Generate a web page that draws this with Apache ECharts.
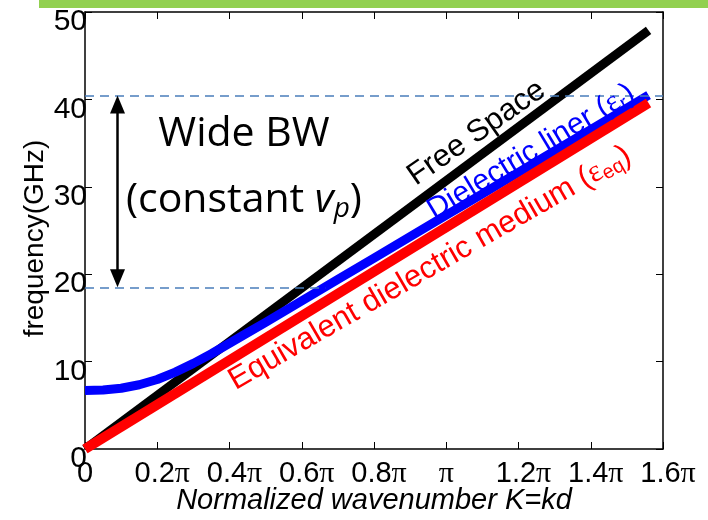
<!DOCTYPE html>
<html>
<head>
<meta charset="utf-8">
<script src="https://cdn.jsdelivr.net/npm/echarts@6/dist/echarts.min.js"></script>
<style>
  html, body { margin: 0; padding: 0; background: #ffffff; }
  #chart { width: 708px; height: 520px; }
</style>
</head>
<body>
<div id="chart"></div>
<script>
// Normalized wavenumber K = kd, expressed in units of π
const xTicks = [0, 0.2, 0.4, 0.6, 0.8, 1.0, 1.2, 1.4, 1.6];
const yTicks = [0, 10, 20, 30, 40, 50];

// Free-space light line (GHz)
const freeSpaceK = [0, 1.56];
const freeSpaceF = [0, 47.9];

// Dielectric-lined guide dispersion (GHz)
const linerK = [0, 0.05, 0.1, 0.15, 0.2, 0.25, 0.3, 0.35, 0.4, 0.45, 0.5, 0.6, 0.7, 0.8, 0.9, 1.0, 1.1, 1.2, 1.3, 1.4, 1.5, 1.56];
const linerF = [6.7, 6.75, 6.95, 7.35, 7.95, 8.8, 9.8, 10.9, 12.1, 13.3, 14.5, 16.95, 19.4, 21.85, 24.3, 26.75, 29.2, 31.65, 34.1, 36.55, 39.0, 40.5];

// Equivalent homogeneous dielectric medium (GHz)
const equivK = [0, 1.56];
const equivF = [0, 39.6];

// Band edges of the constant phase-velocity region (GHz)
const bandTop = 40.45;
const bandBottom = 18.5;
const bandBottomEndK = 0.665;
const bandArrowK = 0.09;

const zip = (xs, ys) => xs.map((x, i) => [x, ys[i]]);

const SANS = '"Liberation Sans", Arial, sans-serif';
const SERIF = '"Liberation Serif", "Times New Roman", serif';
const CAL = '"Open Sans", Calibri, sans-serif';

const chart = echarts.init(document.getElementById('chart'), null, { renderer: 'canvas' });

function piLabel(v) {
  if (Math.abs(v) < 1e-9) return '{n|0}';
  if (Math.abs(v - 1) < 1e-9) return '{p|π}';
  return '{g| }{n|' + v.toFixed(1) + '}{p|π}';
}

const axisLineStyle = { color: '#000', width: 1.5 };
const tickStyle = { show: true, inside: true, length: 7, lineStyle: { color: '#000', width: 1 } };

function buildOption(arrowInset) {
  return {
    animation: false,
    backgroundColor: '#ffffff',
    grid: { left: 85, top: 12, right: 45, bottom: 71, containLabel: false },
    xAxis: [
      {
        type: 'value', min: xTicks[0], max: xTicks[xTicks.length - 1], interval: 0.2,
        position: 'bottom',
        axisLine: { show: true, onZero: false, lineStyle: axisLineStyle },
        axisTick: tickStyle,
        splitLine: { show: false },
        axisLabel: {
          margin: 10,
          showMinLabel: true, showMaxLabel: true, hideOverlap: false,
          formatter: piLabel,
          rich: {
            n: { fontFamily: SANS, fontSize: 29, color: '#000' },
            p: { fontFamily: SERIF, fontSize: 30, color: '#000' },
            g: { fontFamily: SANS, fontSize: 29, width: 10 }
          }
        },
        name: 'Normalized wavenumber K=kd',
        nameLocation: 'middle',
        nameGap: 37,
        nameMoveOverlap: false,
        nameTextStyle: { fontFamily: SANS, fontSize: 29, fontStyle: 'italic', color: '#000' }
      },
      {
        type: 'value', min: xTicks[0], max: xTicks[xTicks.length - 1], interval: 0.2,
        position: 'top',
        axisLine: { show: true, onZero: false, lineStyle: axisLineStyle },
        axisTick: tickStyle,
        axisLabel: { show: false },
        splitLine: { show: false }
      }
    ],
    yAxis: [
      {
        type: 'value', min: yTicks[0], max: yTicks[yTicks.length - 1], interval: 10,
        position: 'left',
        axisLine: { show: true, onZero: false, lineStyle: axisLineStyle },
        axisTick: tickStyle,
        splitLine: { show: false },
        axisLabel: {
          margin: -2,
          showMinLabel: true, showMaxLabel: true, hideOverlap: false,
          fontFamily: SANS, fontSize: 30, color: '#000',
          verticalAlign: 'top', lineHeight: 20
        },
        name: 'frequency(GHz)',
        nameLocation: 'middle',
        nameGap: 36,
        nameMoveOverlap: false,
        nameTextStyle: { fontFamily: SANS, fontSize: 28, color: '#000', padding: [0, 16, 0, 0] }
      },
      {
        type: 'value', min: yTicks[0], max: yTicks[yTicks.length - 1], interval: 10,
        position: 'right',
        axisLine: { show: true, onZero: false, lineStyle: axisLineStyle },
        axisTick: tickStyle,
        axisLabel: { show: false },
        splitLine: { show: false }
      }
    ],
    series: [
      {
        name: 'Free Space', type: 'line', xAxisIndex: 0, yAxisIndex: 0,
        data: zip(freeSpaceK, freeSpaceF), showSymbol: false, symbol: 'none', clip: false,
        lineStyle: { color: '#000000', width: 9, cap: 'butt' }, z: 3
      },
      {
        name: 'Dielectric liner', type: 'line', xAxisIndex: 0, yAxisIndex: 0,
        data: zip(linerK, linerF), showSymbol: false, symbol: 'none', clip: false,
        smooth: false,
        lineStyle: { color: '#0000ff', width: 9, cap: 'butt', join: 'round' }, z: 4
      },
      {
        name: 'Equivalent dielectric medium', type: 'line', xAxisIndex: 0, yAxisIndex: 0,
        data: zip(equivK, equivF), showSymbol: false, symbol: 'none', clip: false,
        lineStyle: { color: '#ff0000', width: 10, cap: 'butt' }, z: 5
      },
      {
        name: 'band', type: 'line', xAxisIndex: 0, yAxisIndex: 0, data: [], z: 2,
        markLine: {
          silent: true, symbol: ['none', 'none'], animation: false,
          label: { show: false },
          lineStyle: { color: '#4a7ebb', width: 1.6, type: [9, 6] },
          data: [
            [{ coord: [xTicks[0], bandTop] }, { coord: [xTicks[xTicks.length - 1], bandTop] }],
            [{ coord: [xTicks[0], bandBottom] }, { coord: [bandBottomEndK, bandBottom] }]
          ]
        }
      },
      {
        name: 'bandArrow', type: 'line', xAxisIndex: 0, yAxisIndex: 0, data: [], z: 6,
        markLine: {
          silent: true, symbol: ['triangle', 'triangle'], symbolSize: [15, 18],
          animation: false,
          label: { show: false },
          lineStyle: { color: '#000', width: 2.5, type: 'solid' },
          itemStyle: { color: '#000' },
          data: [
            [{ coord: [bandArrowK, bandBottom + arrowInset] }, { coord: [bandArrowK, bandTop - arrowInset] }]
          ]
        }
      }
    ]
  };
}

chart.setOption(buildOption(0));

// Pull the arrow ends in by half an arrowhead so the tips meet the band edges
function px(k, f) { return chart.convertToPixel({ xAxisIndex: 0, yAxisIndex: 0 }, [k, f]); }
const pxPerGHz = px(0, 0)[1] - px(0, 1)[1];
chart.setOption(buildOption(9 / pxPerGHz));

// Text annotations placed from data-space anchors
const deg = Math.PI / 180;
function textAt(anchor, rotDeg, style) {
  const p = px(anchor[0], anchor[1]);
  return {
    type: 'text', x: p[0], y: p[1], rotation: rotDeg * deg, z: 20,
    style: Object.assign({ align: 'center', verticalAlign: 'middle' }, style)
  };
}

chart.setOption({
  graphic: [
    { type: 'rect', shape: { x: 39, y: 0, width: 669, height: 8 }, style: { fill: '#92d050' }, z: 30 },
    textAt([0.44, 35.95], 0, {
      text: 'Wide BW', fontFamily: CAL, fontSize: 41, fill: '#000'
    }),
    textAt([0.44, 28.5], 0, {
      text: '{a|(constant }{v|v}{s|p}{a|)}',
      rich: {
        a: { fontFamily: CAL, fontSize: 41, fill: '#000' },
        v: { fontFamily: CAL, fontSize: 41, fontStyle: 'italic', fill: '#000' },
        s: { fontFamily: CAL, fontSize: 28, fontStyle: 'italic', fill: '#000', padding: [18, 0, 0, 0] }
      }
    }),
    textAt([1.084, 36.15], 35, {
      text: 'Free Space', fontFamily: SANS, fontSize: 31, fill: '#000'
    }),
    textAt([1.235, 34.0], 31, {
      text: '{a|Dielectric liner (}{e|ε}{s|r}{a|)}',
      rich: {
        a: { fontFamily: SANS, fontSize: 30, fill: '#0000ff' },
        e: { fontFamily: SERIF, fontSize: 30, fill: '#0000ff' },
        s: { fontFamily: SANS, fontSize: 20, fill: '#0000ff', padding: [13, 0, 0, 0] }
      }
    }),
    textAt([0.955, 20.7], 30, {
      text: '{a|Equivalent dielectric medium (}{e|ε}{s|eq}{a|)}',
      rich: {
        a: { fontFamily: SANS, fontSize: 31, fill: '#ff0000' },
        e: { fontFamily: SERIF, fontSize: 31, fill: '#ff0000' },
        s: { fontFamily: SANS, fontSize: 20, fill: '#ff0000', padding: [13, 0, 0, 0] }
      }
    })
  ]
});
</script>
</body>
</html>
